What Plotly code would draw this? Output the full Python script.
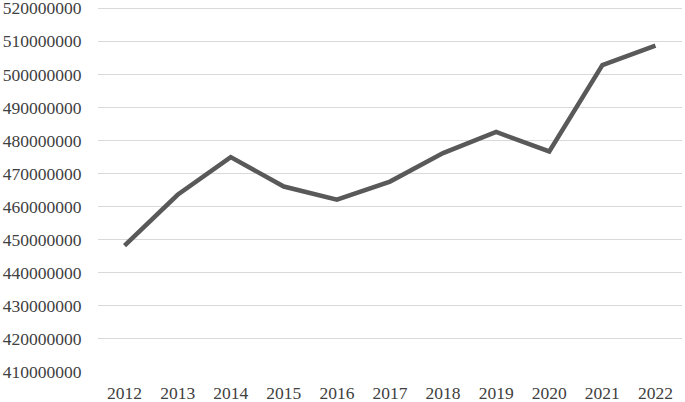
import plotly.graph_objects as go

years = ["2012", "2013", "2014", "2015", "2016", "2017", "2018", "2019", "2020", "2021", "2022"]
values = [448200000, 463600000, 475000000, 466100000, 462100000, 467600000,
          476200000, 482600000, 476700000, 502800000, 508700000]
y_ticks = list(range(410000000, 520000001, 10000000))

fig = go.Figure()
fig.add_trace(go.Scatter(x=years, y=values, mode="lines",
                         line=dict(color="#595959", width=4.5)))

fig.update_layout(
    width=685, height=402,
    margin=dict(l=98, r=3, t=5, b=29, autoexpand=False),
    paper_bgcolor="white", plot_bgcolor="white",
    showlegend=False,
    font=dict(family="Liberation Serif, Times New Roman, serif", size=17.5, color="#404040"),
)
fig.update_xaxes(type="category", range=[-0.5, 10.5], showgrid=False,
                 showline=False, ticks="outside", ticklen=4, tickcolor="rgba(0,0,0,0)",
                 ticklabeloverflow="allow")
fig.update_yaxes(range=[409700000, 521000000], tickvals=y_ticks,
                 ticktext=[str(v) for v in y_ticks],
                 showgrid=True, gridcolor="#d9d9d9", gridwidth=1.3, zeroline=False,
                 showline=False, ticks="outside", ticklen=12, tickcolor="rgba(0,0,0,0)",
                 ticklabeloverflow="allow")

fig.write_html("out.html", config={"displayModeBar": False},
               post_script="document.body.style.margin='0';document.body.style.padding='0';")
